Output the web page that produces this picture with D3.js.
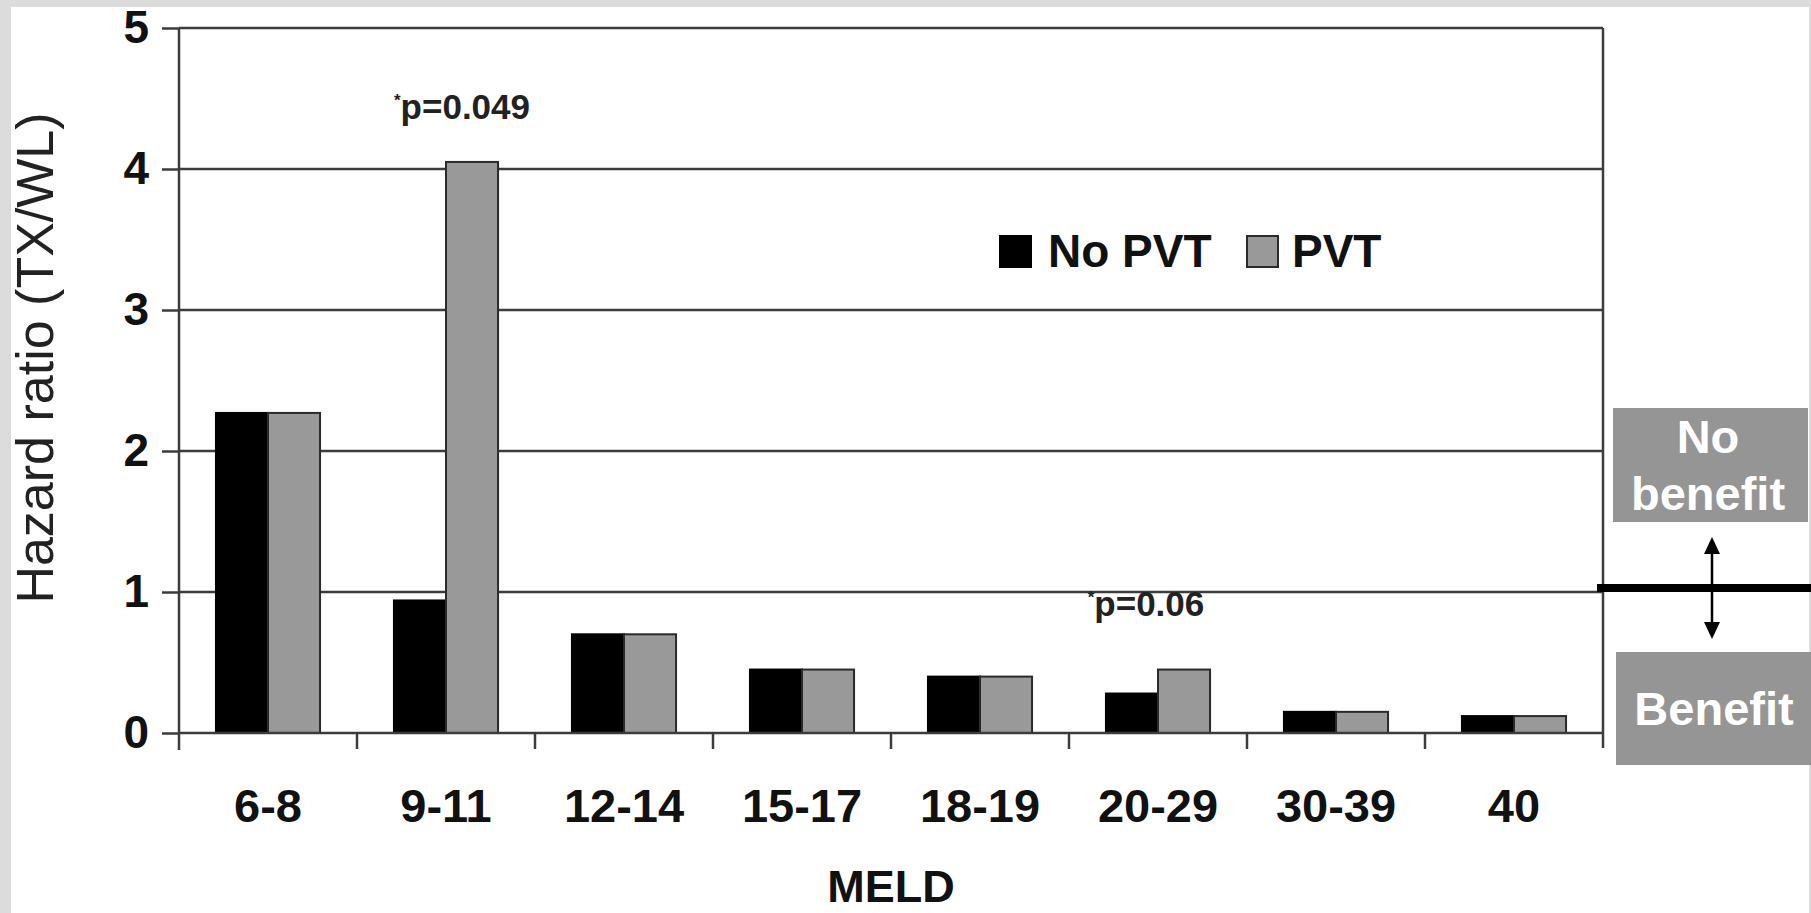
<!DOCTYPE html>
<html>
<head>
<meta charset="utf-8">
<script src="https://cdn.jsdelivr.net/npm/d3@7"></script>
<style>
  html, body { margin: 0; padding: 0; background: #dcdcdc; }
  svg { display: block; }
  text { font-family: "Liberation Sans", Arial, Helvetica, sans-serif; }
</style>
</head>
<body>
<svg id="chart" width="1811" height="913"></svg>
<script>
// ---- data ----
const categories = ["6-8", "9-11", "12-14", "15-17", "18-19", "20-29", "30-39", "40"];
const seriesNames = ["No PVT", "PVT"];
const noPVT = [2.27, 0.94, 0.70, 0.45, 0.40, 0.28, 0.15, 0.12];
const pvt   = [2.27, 4.05, 0.70, 0.45, 0.40, 0.45, 0.15, 0.12];
const yTicks = [0, 1, 2, 3, 4, 5];
const annotCats = ["9-11", "20-29"];
const annotTexts = ["p=0.049", "p=0.06"];
const xTitle = "MELD";
const yTitle = "Hazard ratio (TX/WL)";
const sideLabels = [["No", "benefit"], ["Benefit"]];

(function () {
// ---- layout ----
const W = 1811, H = 913;
const pLeft = 179, pRight = 1603, pTop = 28, pBottom = 733;
const svg = d3.select("#chart");

// white canvas inside gray frame
svg.append("rect").attr("x", 11).attr("y", 7).attr("width", W - 11 - 2).attr("height", H - 7).attr("fill", "#ffffff");

const x0 = d3.scaleBand().domain(categories).range([pLeft, pRight]).paddingInner(0).paddingOuter(0);
const x1 = d3.scaleBand().domain(seriesNames).range([0, x0.bandwidth()]).paddingInner(0).paddingOuter(0.71);
const y = d3.scaleLinear().domain([0, 5]).range([pBottom, pTop]);
const fills = { "No PVT": "#000000", "PVT": "#999999" };
const strokes = { "No PVT": "#000000", "PVT": "#2a2a2a" };
const lineColor = "#3c3c3c";
const font = '"Liberation Sans", Arial, Helvetica, sans-serif';

// gridlines
svg.append("g").selectAll("line").data(yTicks.filter(d => d > 0)).join("line")
  .attr("x1", pLeft).attr("x2", pRight)
  .attr("y1", d => y(d)).attr("y2", d => y(d))
  .attr("stroke", lineColor).attr("stroke-width", 2.5);

// bars
const data = categories.map((c, i) => ({ cat: c, vals: [
  { s: "No PVT", v: noPVT[i] }, { s: "PVT", v: pvt[i] } ] }));
const groups = svg.append("g").selectAll("g").data(data).join("g")
  .attr("transform", d => `translate(${x0(d.cat)},0)`);
groups.selectAll("rect").data(d => d.vals).join("rect")
  .attr("x", d => x1(d.s))
  .attr("y", d => y(d.v))
  .attr("width", x1.bandwidth())
  .attr("height", d => y(0) - y(d.v))
  .attr("fill", d => fills[d.s])
  .attr("stroke", d => strokes[d.s])
  .attr("stroke-width", 2);

// y axis
const yAxis = svg.append("g").attr("transform", `translate(${pLeft},0)`)
  .call(d3.axisLeft(y).tickValues(yTicks).tickSize(17).tickPadding(13).tickFormat(d3.format("d")));
yAxis.select(".domain").remove();
yAxis.selectAll(".tick line").attr("stroke", lineColor).attr("stroke-width", 2.5);
yAxis.selectAll(".tick text").attr("font-family", font).attr("font-size", 46).attr("font-weight", "bold").attr("fill", "#111");
// left axis line
svg.append("line").attr("x1", pLeft).attr("x2", pLeft).attr("y1", y(5)).attr("y2", pBottom + 17)
  .attr("stroke", lineColor).attr("stroke-width", 2.5);
// baseline (0) line
svg.append("line").attr("x1", pLeft).attr("x2", pRight).attr("y1", y(0)).attr("y2", y(0))
  .attr("stroke", lineColor).attr("stroke-width", 2.5);
// right frame line
svg.append("line").attr("x1", pRight).attr("x2", pRight).attr("y1", y(5)).attr("y2", pBottom + 15)
  .attr("stroke", lineColor).attr("stroke-width", 2.5);

// x axis labels
const xAxis = svg.append("g").attr("transform", `translate(0,${pBottom})`)
  .call(d3.axisBottom(x0).tickSize(0).tickPadding(56));
xAxis.select(".domain").remove();
xAxis.selectAll(".tick text").attr("font-family", font).attr("font-size", 47).attr("font-weight", "bold").attr("fill", "#111");
// boundary ticks
const edges = categories.map(c => x0(c)).concat([x0.range()[1]]);
svg.append("g").selectAll("line").data(edges.slice(1, -1)).join("line")
  .attr("x1", d => d).attr("x2", d => d).attr("y1", pBottom).attr("y2", pBottom + 16)
  .attr("stroke", lineColor).attr("stroke-width", 2.5);

// axis titles
svg.append("text").attr("x", (pLeft + pRight) / 2).attr("y", 902).attr("text-anchor", "middle")
  .attr("font-size", 45).attr("font-weight", "bold").attr("fill", "#111").text(xTitle);
svg.append("text").attr("transform", "translate(53,358) rotate(-90)").attr("text-anchor", "middle")
  .attr("font-size", 52).attr("fill", "#222").text(yTitle);

// legend
const legend = svg.append("g");
const legItems = [{ s: "No PVT", bx: 1000, tx: 1048 }, { s: "PVT", bx: 1247, tx: 1292 }];
legItems.forEach(it => {
  legend.append("rect").attr("x", it.bx).attr("y", 236).attr("width", 31).attr("height", 31)
    .attr("fill", fills[it.s]).attr("stroke", strokes[it.s]).attr("stroke-width", 2);
  legend.append("text").attr("x", it.tx).attr("y", 267).attr("font-size", 46).attr("font-weight", "bold")
    .attr("fill", "#111").text(it.s);
});

// p-value annotations
const annotOffsets = [16, -12];
const annotBaseline = [119, 616];
annotCats.forEach((c, i) => {
  const t = svg.append("text").attr("x", x0(c) + x0.bandwidth() / 2 + annotOffsets[i]).attr("y", annotBaseline[i])
    .attr("text-anchor", "middle").attr("font-size", 35).attr("font-weight", "bold").attr("fill", "#222");
  t.append("tspan").attr("font-size", 17).attr("dy", -13).text("*");
  t.append("tspan").attr("dy", 13).text(annotTexts[i]);
});

// right side: benefit boxes, threshold line and arrow
svg.append("line").attr("x1", 1597).attr("x2", W).attr("y1", y(1) - 4).attr("y2", y(1) - 4)
  .attr("stroke", "#000").attr("stroke-width", 8);
const boxes = [{ x: 1613, y: 408, w: 195, h: 114, lines: sideLabels[0], base: [453, 510], cx: 1708 },
               { x: 1616, y: 652, w: 195, h: 113, lines: sideLabels[1], base: [725], cx: 1714 }];
boxes.forEach(b => {
  svg.append("rect").attr("x", b.x).attr("y", b.y).attr("width", b.w).attr("height", b.h).attr("fill", "#959595");
  b.lines.forEach((l, i) => {
    svg.append("text").attr("x", b.cx).attr("y", b.base[i]).attr("text-anchor", "middle")
      .attr("font-size", 47).attr("font-weight", "bold").attr("fill", "#ffffff").text(l);
  });
});
const ax = 1712;
svg.append("line").attr("x1", ax).attr("x2", ax).attr("y1", 550).attr("y2", 626).attr("stroke", "#000").attr("stroke-width", 2.5);
svg.append("path").attr("d", `M${ax},537 L${ax - 8},554 L${ax + 8},554 Z`).attr("fill", "#000");
svg.append("path").attr("d", `M${ax},639 L${ax - 8},622 L${ax + 8},622 Z`).attr("fill", "#000");
})();
</script>
</body>
</html>
